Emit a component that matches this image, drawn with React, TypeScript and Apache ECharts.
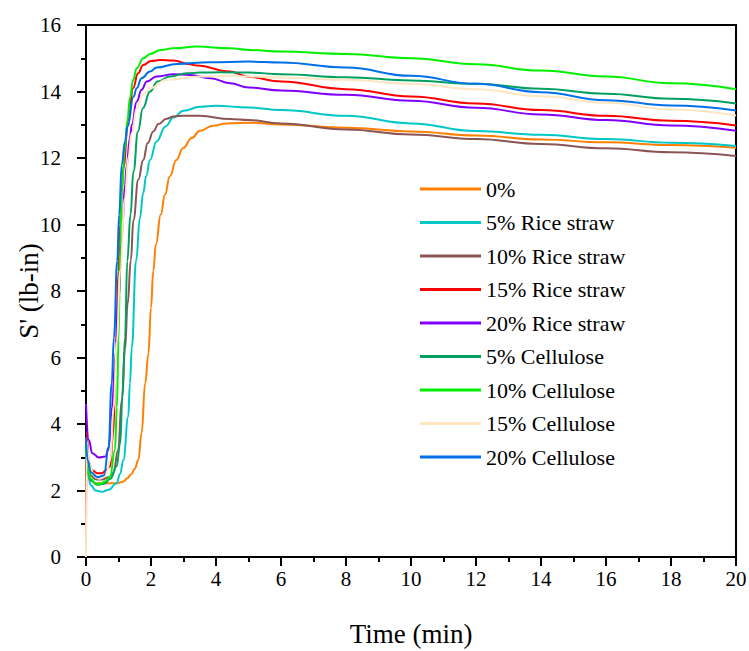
import React, { useEffect, useRef } from "react";
import * as echarts from "echarts";

// Series data: [time (min), S' (lb-in)]
const seriesNames = [
  "0%",
  "5% Rice straw",
  "10% Rice straw",
  "15% Rice straw",
  "20% Rice straw",
  "5% Cellulose",
  "10% Cellulose",
  "15% Cellulose",
  "20% Cellulose",
];

const seriesColors = [
  "#FF8000",
  "#00C8C8",
  "#8B5555",
  "#FF0000",
  "#8000FF",
  "#00A060",
  "#00F000",
  "#FFE6C0",
  "#0070E8",
];

const ctrl0 = [
  [0, 3.2], [0.05, 2.6], [0.15, 2.3], [0.3, 2.22], [0.6, 2.22], [0.96, 2.22], [1.15, 2.27],
  [1.27, 2.37], [1.4, 2.5], [1.5, 2.65], [1.61, 2.92], [1.71, 3.72], [1.82, 5.22], [1.92, 6.1],
  [2.0, 7.5], [2.07, 8.6], [2.15, 9.4], [2.3, 10.3], [2.43, 10.9], [2.58, 11.45], [2.78, 11.94],
  [2.99, 12.3], [3.25, 12.6], [3.51, 12.82], [3.9, 12.97], [4.33, 13.04], [5, 13.06], [6, 13.01],
  [8, 12.91], [10, 12.8], [12, 12.68], [14, 12.56], [16, 12.47], [18, 12.39], [20, 12.31],
];

const rice5 = [
  [0, 3.0], [0.05, 2.5], [0.15, 2.15], [0.3, 2.0], [0.48, 1.96], [0.7, 2.02], [0.94, 2.22],
  [1.05, 2.5], [1.15, 2.92], [1.3, 4.22], [1.35, 5.22], [1.41, 6.3], [1.54, 8.9], [1.66, 10.2],
  [1.76, 10.94], [1.85, 11.45], [1.97, 11.94], [2.17, 12.5], [2.45, 12.95], [2.69, 13.22],
  [3.0, 13.42], [3.51, 13.54], [4, 13.57], [5, 13.52], [6, 13.44], [8, 13.27], [10, 13.04],
  [12, 12.81], [14, 12.7], [16, 12.57], [18, 12.46], [20, 12.36],
];

const rice10 = [
  [0, 3.5], [0.05, 2.8], [0.15, 2.45], [0.3, 2.33], [0.5, 2.33], [0.7, 2.4], [0.84, 2.52],
  [0.99, 3.22], [1.1, 4.72], [1.2, 6.23], [1.28, 7.6], [1.38, 8.93], [1.46, 10.14], [1.61, 11.35],
  [1.76, 11.94], [1.9, 12.45], [2.07, 12.8], [2.23, 13.02], [2.48, 13.18], [2.69, 13.25],
  [3.0, 13.27], [3.5, 13.27], [4.43, 13.17], [5, 13.14], [6, 13.04], [8, 12.86], [10, 12.71],
  [12, 12.57], [14, 12.42], [16, 12.29], [18, 12.17], [20, 12.06],
];

const rice15 = [
  [0, 0.72], [0.02, 3.77], [0.09, 2.82], [0.2, 2.6], [0.35, 2.52], [0.5, 2.52], [0.6, 2.6],
  [0.74, 2.72], [0.84, 3.72], [0.92, 6.23], [1.0, 8.6], [1.05, 10.0], [1.1, 11.0], [1.15, 11.7],
  [1.3, 13.14], [1.45, 14.1], [1.6, 14.55], [1.76, 14.8], [2.0, 14.92], [2.28, 14.95], [2.69, 14.93],
  [3.2, 14.82], [3.4, 14.78], [4.43, 14.6], [5, 14.44], [6, 14.3], [8, 14.07], [10, 13.85],
  [12, 13.64], [14, 13.44], [16, 13.27], [18, 13.12], [20, 12.98],
];

const rice20 = [
  [0, 4.6], [0.09, 3.52], [0.19, 3.12], [0.4, 2.99], [0.6, 3.02], [0.7, 3.3], [0.8, 4.5],
  [0.9, 6.0], [1.0, 7.8], [1.1, 9.6], [1.2, 11.2], [1.25, 11.75], [1.35, 12.6], [1.41, 13.0],
  [1.56, 13.7], [1.71, 14.05], [1.87, 14.3], [2.17, 14.45], [2.69, 14.52], [3.2, 14.5],
  [3.82, 14.4], [4.43, 14.25], [5, 14.12], [6, 14.03], [8, 13.9], [10, 13.72], [12, 13.51],
  [14, 13.31], [16, 13.14], [18, 12.98], [20, 12.82],
];

const cell5 = [
  [0, 3.3], [0.05, 2.6], [0.15, 2.3], [0.35, 2.17], [0.55, 2.2], [0.75, 2.35], [0.94, 2.72],
  [1.05, 3.4], [1.12, 4.8], [1.2, 6.6], [1.27, 8.9], [1.37, 10.3], [1.46, 11.6], [1.6, 12.8],
  [1.75, 13.5], [1.97, 14.0], [2.2, 14.3], [2.58, 14.45], [3.1, 14.55], [3.51, 14.57],
  [4.12, 14.58], [5, 14.57], [6, 14.52], [8, 14.43], [10, 14.33], [12, 14.23], [14, 14.08],
  [16, 13.93], [18, 13.78], [20, 13.64],
];

const cell10 = [
  [0, 3.4], [0.05, 2.7], [0.15, 2.35], [0.3, 2.2], [0.45, 2.2], [0.6, 2.28], [0.74, 2.42],
  [0.89, 3.22], [0.95, 4.5], [1.0, 6.5], [1.05, 9.3], [1.1, 11.0], [1.2, 12.3], [1.27, 13.1],
  [1.35, 13.8], [1.45, 14.35], [1.56, 14.7], [1.76, 15.0], [1.97, 15.13], [2.3, 15.25],
  [2.69, 15.3], [3.4, 15.35], [4.43, 15.3], [5, 15.25], [6, 15.2], [8, 15.13], [10, 15.0],
  [12, 14.82], [14, 14.63], [16, 14.45], [18, 14.25], [20, 14.07],
];

const cell15 = [
  [0, 0], [0.02, 3.5], [0.1, 2.8], [0.25, 2.45], [0.4, 2.35], [0.6, 2.45], [0.75, 2.9],
  [0.85, 4.5], [0.95, 6.5], [1.05, 8.6], [1.2, 10.8], [1.3, 12.0], [1.41, 12.75], [1.56, 13.5],
  [1.75, 13.9], [1.97, 14.1], [2.48, 14.35], [3.51, 14.45], [4.4, 14.47], [5, 14.45], [6, 14.42],
  [8, 14.35], [10, 14.23], [12, 14.07], [14, 13.86], [16, 13.66], [18, 13.46], [20, 13.28],
];

const cell20 = [
  [0, 3.6], [0.05, 2.9], [0.15, 2.55], [0.35, 2.4], [0.55, 2.45], [0.69, 3.22], [0.79, 5.22],
  [0.86, 6.6], [0.96, 8.9], [1.02, 10.3], [1.1, 11.8], [1.2, 12.5], [1.28, 12.95], [1.46, 13.84],
  [1.56, 14.1], [1.71, 14.4], [1.97, 14.6], [2.17, 14.72], [2.79, 14.83], [3.82, 14.88],
  [5, 14.9], [6, 14.87], [8, 14.72], [10, 14.47], [12, 14.23], [14, 13.98], [16, 13.74],
  [18, 13.58], [20, 13.43],
];

const allData = [ctrl0, rice5, rice10, rice15, rice20, cell5, cell10, cell15, cell20];

const FONT = "Liberation Serif, serif";

export default function App() {
  const ref = useRef<HTMLDivElement>(null);

  useEffect(() => {
    if (!ref.current) return;
    const chart = echarts.init(ref.current, undefined, { renderer: "svg" });
    chart.setOption({
      animation: false,
      backgroundColor: "#fff",
      textStyle: { fontFamily: FONT, color: "#000" },
      grid: {
        left: 86,
        right: 13,
        top: 25,
        bottom: 94,
        containLabel: false,
        outerBoundsMode: "none",
        show: true,
        borderColor: "#000",
        borderWidth: 2,
        backgroundColor: "transparent",
      },
      legend: {
        orient: "vertical",
        left: 415,
        top: 173,
        itemWidth: 61,
        itemHeight: 3,
        itemGap: 11.5,
        icon: "rect",
        data: seriesNames.map((n, i) => ({
          name: n,
          itemStyle: { color: seriesColors[i] },
        })),
        textStyle: {
          fontFamily: FONT,
          fontSize: 22,
          color: "#000",
          lineHeight: 22,
        },
      },
      xAxis: {
        type: "value",
        min: 0,
        max: 20,
        interval: 2,
        name: "Time (min)",
        nameLocation: "middle",
        nameGap: 63,
        nameMoveOverlap: false,
        nameTextStyle: { fontFamily: FONT, fontSize: 27, color: "#000" },
        axisLine: { show: true, onZero: false, lineStyle: { color: "#000", width: 2 } },
        axisTick: { show: true, inside: false, length: 9, lineStyle: { color: "#000", width: 2 } },
        minorTick: { show: true, splitNumber: 2, length: 5, lineStyle: { color: "#000", width: 2 } },
        splitLine: { show: false },
        axisLabel: { fontFamily: FONT, fontSize: 21, color: "#000", margin: 11 },
      },
      yAxis: {
        type: "value",
        min: 0,
        max: 16,
        interval: 2,
        name: "S' (lb-in)",
        nameLocation: "middle",
        nameGap: 44,
        nameMoveOverlap: false,
        nameTextStyle: { fontFamily: FONT, fontSize: 27, color: "#000" },
        axisLine: { show: true, onZero: false, lineStyle: { color: "#000", width: 2 } },
        axisTick: { show: true, inside: false, length: 9, lineStyle: { color: "#000", width: 2 } },
        minorTick: { show: true, splitNumber: 2, length: 5, lineStyle: { color: "#000", width: 2 } },
        splitLine: { show: false },
        axisLabel: { fontFamily: FONT, fontSize: 21, color: "#000", margin: 25 },
      },
      series: allData.map((d, i) => ({
        name: seriesNames[i],
        type: "line",
        data: d,
        symbol: "none",
        smooth: 0.45,
        smoothMonotone: "x",
        color: seriesColors[i],
        lineStyle: { color: seriesColors[i], width: 2 },
      })),
    });
    return () => chart.dispose();
  }, []);

  return (
    <div
      ref={ref}
      style={{ position: "absolute", left: 0, top: 0, width: 749, height: 651 }}
    />
  );
}
